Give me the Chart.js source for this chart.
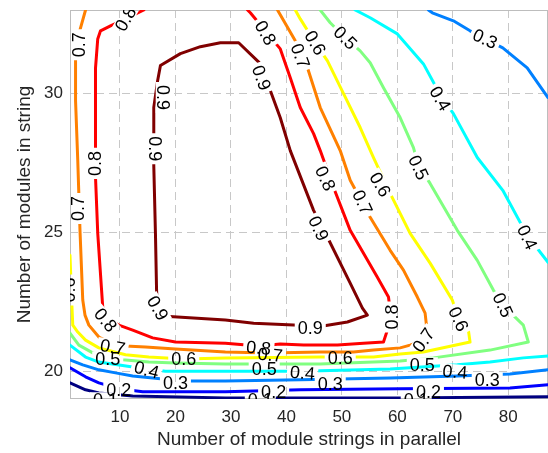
<!DOCTYPE html>
<html><head><meta charset="utf-8">
<script src="https://cdn.jsdelivr.net/npm/chart.js@4/dist/chart.umd.min.js"></script>
<style>html,body{margin:0;padding:0;background:#fff}#wrap{width:548px;height:453px;position:relative}</style>
</head><body><div id="wrap"><canvas id="c"></canvas></div>
<script>
// Axis ticks
const xTicks = [10, 20, 30, 40, 50, 60, 70, 80];
const yTicks = [20, 25, 30];
const xRange = [1, 87.15];
const yRange = [19, 33];

// Contour lines: [x (strings in parallel), y (modules in string)]
const c09 = [[17.3,31.0],[20.9,31.43],[24.5,31.68],[28.1,31.82],[31.4,31.82],[35.3,31.07],[37.1,30.1],[38.9,29.12],[40.7,27.94],[44.9,25.79],[47.4,24.82],[51.5,23.17],[53.7,22.27],[54.6,22.02],[51.0,21.77],[46.6,21.63],[41.3,21.66],[34.1,21.73],[29.0,21.84],[18.2,21.98],[16.8,22.2],[16.6,22.92],[16.4,24.96],[16.1,27.4],[16.1,29.49],[16.8,30.46],[17.3,31.0]];
const c08 = [[33.0,33.0],[33.5,32.9],[36.2,32.25],[38.9,31.6],[40.7,30.56],[42.5,29.49],[44.9,28.55],[46.1,27.94],[48.5,26.61],[51.5,25.07],[56.4,23.38],[58.4,22.67],[58.7,22.2],[58.2,21.48],[57.5,21.05],[53.9,21.01],[49.2,20.94],[43.1,20.94],[38.9,20.98],[35.0,20.91],[29.0,21.01],[20.0,21.05],[15.9,21.2],[12.3,21.48],[9.8,21.66],[7.4,21.91],[6.9,22.31],[6.0,24.96],[5.6,26.97],[5.6,30.92],[6.0,31.96],[6.5,32.25],[8.3,32.43],[11.0,32.68],[14.3,33.0]];
const c07 = [[3.8,33.0],[2.6,32.14],[2.0,31.28],[2.0,29.74],[2.4,27.58],[2.8,25.07],[3.3,22.56],[3.7,22.02],[4.4,21.66],[6.2,21.23],[8.7,20.98],[11.0,20.91],[14.6,20.87],[20.0,20.8],[29.0,20.69],[36.8,20.66],[46.1,20.69],[52.1,20.69],[55.7,20.76],[60.5,20.84],[62.3,20.94],[64.7,21.12],[65.4,21.37],[65.0,22.09],[63.6,22.67],[61.1,23.64],[58.7,24.35],[55.1,25.54],[51.5,26.87],[49.7,27.94],[46.1,29.49],[43.8,30.92],[41.6,31.89],[38.4,33.0]];
const c06 = [[1.0,24.17],[1.3,22.56],[1.5,21.66],[2.4,21.41],[3.8,21.12],[6.2,20.84],[11.0,20.59],[15.2,20.51],[21.5,20.44],[29.0,20.48],[46.1,20.51],[55.7,20.51],[60.5,20.62],[64.7,20.69],[73.1,21.05],[72.8,21.48],[71.0,21.91],[69.9,22.56],[65.9,23.89],[62.3,24.96],[58.7,26.4],[55.7,27.69],[53.3,28.77],[50.3,29.99],[47.4,31.17],[45.2,31.82],[42.5,32.68],[41.6,33.0]];
const c05 = [[1.0,21.37],[2.6,20.94],[5.1,20.66],[7.8,20.48],[10.5,20.41],[15.2,20.33],[20.0,20.3],[29.0,20.26],[46.1,20.26],[60.5,20.37],[66.5,20.48],[76.7,20.76],[83.6,21.05],[82.7,21.66],[79.0,22.38],[77.3,22.92],[74.4,23.99],[70.8,25.07],[65.9,26.76],[63.8,27.4],[62.9,28.05],[60.5,29.13],[57.5,30.2],[55.1,31.1],[53.3,31.53],[50.6,32.0],[47.9,32.54],[46.1,33.0]];
const c04a = [[1.0,20.94],[3.8,20.51],[6.2,20.33],[12.3,20.15],[18.2,20.0],[29.0,20.0],[42.5,20.0],[58.7,20.08],[70.8,20.23],[76.7,20.33],[82.7,20.48],[87.15,20.55]];
const c04b = [[52.4,33.0],[55.1,32.72],[60.0,32.14],[64.7,31.06],[67.8,29.92],[70.1,29.27],[74.4,27.69],[79.0,26.51],[83.4,24.89],[87.15,23.92]];
const c03a = [[1.0,20.41],[3.3,20.23],[6.2,20.05],[9.2,19.94],[12.3,19.83],[17.3,19.73],[22.7,19.65],[29.0,19.65],[42.5,19.69],[58.7,19.76],[70.8,19.83],[80.3,19.9],[87.15,20.05]];
const c03b = [[65.6,33.0],[66.3,32.9],[70.1,32.61],[73.1,32.25],[75.8,31.96],[79.0,31.64],[83.4,30.92],[87.15,29.85]];
const c02 = [[1.0,20.12],[3.8,19.8],[6.2,19.58],[9.8,19.37],[14.1,19.26],[29.0,19.26],[42.5,19.33],[60.5,19.37],[80.3,19.4],[87.15,19.51]];
const c01 = [[1.0,19.58],[3.8,19.33],[6.2,19.22],[12.3,19.11],[29.0,19.04],[60.5,19.04],[87.15,19.08]];

// Contour labels: level text, x, y
const labelText = ['0.9','0.9','0.9','0.9','0.9','0.9',
  '0.8','0.8','0.8','0.8','0.8','0.8','0.8',
  '0.7','0.7','0.7','0.7','0.7','0.7','0.7',
  '0.6','0.6','0.6','0.6','0.6','0.6',
  '0.5','0.5','0.5','0.5','0.5','0.5',
  '0.4','0.4','0.4','0.4','0.4',
  '0.3','0.3','0.3','0.3',
  '0.2','0.2','0.2',
  '0.1','0.1','0.1'];
const labelX = [17.8,16.4,16.8,44.3,45.8,35.5,
  11.0,5.6,7.4,35.0,59.1,47.0,36.2,
  2.6,2.4,8.7,37.1,64.7,53.7,42.5,
  0.8,21.5,49.7,71.0,56.9,45.2,
  7.8,36.0,64.5,79.0,63.8,50.6,
  14.8,42.9,70.4,67.7,83.4,
  20.0,47.9,76.2,75.8,
  9.8,37.7,65.6,
  7.4,35.3,63.4];
const labelY = [29.85,28.01,22.27,21.55,25.14,30.56,
  32.68,27.48,21.84,20.84,21.95,26.94,32.18,
  31.75,25.86,20.87,20.59,21.12,26.08,31.35,
  22.92,20.44,20.48,21.88,26.72,31.82,
  20.44,20.08,20.23,22.38,27.33,32.0,
  20.05,19.94,19.98,29.81,24.82,
  19.58,19.55,19.69,31.96,
  19.33,19.26,19.26,
  18.97,18.97,18.97];
const labelRot = [90,90,60,0,65,70,
  -60,-90,50,5,-90,65,60,
  -90,-90,10,5,-55,65,70,
  -90,0,0,65,60,60,
  0,0,0,65,65,45,
  15,5,5,60,65,
  0,0,0,25,
  0,0,0,
  0,0,0];

const FAMILY = '"Liberation Sans", Arial, Helvetica, sans-serif';
Chart.defaults.font.family = FAMILY;
const LABEL_FONT = '18px ' + FAMILY;

const series = [
  {level:'0.9', pts:c09, color:'#800000'},
  {level:'0.8', pts:c08, color:'#ff0000'},
  {level:'0.7', pts:c07, color:'#ff8000'},
  {level:'0.6', pts:c06, color:'#ffff00'},
  {level:'0.5', pts:c05, color:'#80ff80'},
  {level:'0.4', pts:c04a, color:'#00ffff'},
  {level:'0.4', pts:c04b, color:'#00ffff'},
  {level:'0.3', pts:c03a, color:'#0080ff'},
  {level:'0.3', pts:c03b, color:'#0080ff'},
  {level:'0.2', pts:c02, color:'#0000ff'},
  {level:'0.1', pts:c01, color:'#000080'}
];

function labelPath(chart, ctx, level){
  const xs = chart.scales.x, ys = chart.scales.y;
  ctx.font = LABEL_FONT;
  for (let i = 0; i < labelText.length; i++){
    if (labelText[i] !== level) continue;
    const cx = xs.getPixelForValue(labelX[i]), cy = ys.getPixelForValue(labelY[i]);
    const w = ctx.measureText(labelText[i]).width + 6, h = 15;
    const r = labelRot[i] * Math.PI / 180, c = Math.cos(r), s = Math.sin(r);
    const pts = [[-w/2,-h/2],[w/2,-h/2],[w/2,h/2],[-w/2,h/2]];
    pts.forEach((p, k) => {
      const px = cx + p[0]*c - p[1]*s, py = cy + p[0]*s + p[1]*c;
      if (k === 0) ctx.moveTo(px, py); else ctx.lineTo(px, py);
    });
    ctx.closePath();
  }
}

const contourLabels = {
  id: 'contourLabels',
  beforeDatasetsDraw(chart){
    const ctx = chart.ctx, a = chart.chartArea;
    ctx.save();
    ctx.strokeStyle = '#bdbdbd';
    ctx.lineWidth = 1;
    ctx.strokeRect(a.left + 0.5, a.top + 0.5, a.width - 1, a.height - 1);
    ctx.restore();
  },
  beforeDatasetDraw(chart, args){
    const ds = chart.data.datasets[args.index];
    const ctx = chart.ctx, a = chart.chartArea;
    ctx.save();
    ctx.beginPath();
    ctx.rect(a.left - 5, a.top - 5, a.width + 10, a.height + 10);
    labelPath(chart, ctx, ds.level);
    ctx.clip('evenodd');
  },
  afterDatasetDraw(chart){
    chart.ctx.restore();
  },
  afterDatasetsDraw(chart){
    const ctx = chart.ctx, a = chart.chartArea;
    const xs = chart.scales.x, ys = chart.scales.y;
    ctx.save();
    ctx.beginPath();
    ctx.rect(a.left, a.top, a.width, a.height);
    ctx.clip();
    ctx.font = LABEL_FONT;
    ctx.fillStyle = '#000';
    ctx.textAlign = 'center';
    ctx.textBaseline = 'middle';
    for (let i = 0; i < labelText.length; i++){
      ctx.save();
      ctx.translate(xs.getPixelForValue(labelX[i]), ys.getPixelForValue(labelY[i]));
      ctx.rotate(labelRot[i] * Math.PI / 180);
      ctx.fillText(labelText[i], 0, 1);
      ctx.restore();
    }
    ctx.restore();
  }
};

new Chart(document.getElementById('c'), {
  type: 'line',
  data: {
    datasets: series.map(s => ({
      level: s.level,
      label: s.level,
      data: s.pts.map(p => ({x: p[0], y: p[1]})),
      borderColor: s.color,
      backgroundColor: s.color,
      borderWidth: 3,
      pointRadius: 0,
      tension: 0,
      fill: false,
      borderJoinStyle: 'round',
      borderCapStyle: 'round'
    }))
  },
  options: {
    responsive: true,
    maintainAspectRatio: false,
    animation: false,
    devicePixelRatio: 1,
    layout: {padding: {top: 10, right: 0, bottom: 0, left: 0}},
    plugins: {legend: {display: false}, tooltip: {enabled: false}},
    scales: {
      x: {
        type: 'linear', min: xRange[0], max: xRange[1],
        afterBuildTicks: s => { s.ticks = xTicks.map(v => ({value: v})); },
        afterFit: s => { s.height = 54; s.paddingLeft = 0; s.paddingRight = 0; s.paddingTop = 0; s.paddingBottom = 0; },
        grid: {color: '#c8c8c8', lineWidth: 1, drawTicks: false},
        border: {display: false, dash: [8, 5]},
        ticks: {color: '#262626', font: {size: 17}, padding: 8, maxRotation: 0},
        title: {display: true, text: 'Number of module strings in parallel', color: '#262626', font: {size: 19}, padding: {top: 0, bottom: 2}}
      },
      y: {
        type: 'linear', min: yRange[0], max: yRange[1],
        afterBuildTicks: s => { s.ticks = yTicks.map(v => ({value: v})); },
        afterFit: s => { s.width = 70; s.paddingTop = 0; s.paddingBottom = 0; s.paddingLeft = 0; s.paddingRight = 0; },
        grid: {color: '#c8c8c8', lineWidth: 1, drawTicks: false},
        border: {display: false, dash: [8, 5]},
        ticks: {color: '#262626', font: {size: 17}, padding: 7},
        title: {display: true, text: 'Number of modules in string', color: '#262626', font: {size: 19}, padding: {top: 13, bottom: 0}}
      }
    }
  },
  plugins: [contourLabels]
});
</script>
</body></html>
